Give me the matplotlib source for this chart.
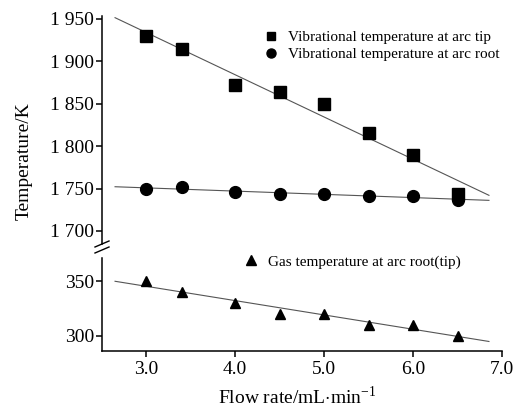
import numpy as np
import matplotlib
matplotlib.use('Agg')
import matplotlib.pyplot as plt
from matplotlib.lines import Line2D

plt.rcParams['font.family'] = ['Liberation Serif', 'DejaVu Serif']
plt.rcParams['mathtext.fontset'] = 'custom'
plt.rcParams['mathtext.rm'] = 'Liberation Serif'

# data
flow = [3.0, 3.4, 4.0, 4.5, 5.0, 5.5, 6.0, 6.5]
t_tip = [1930, 1914, 1872, 1864, 1849, 1815, 1790, 1743]
t_root = [1750, 1752, 1746, 1743, 1743, 1741, 1741, 1737]
t_gas = [350, 340, 330, 320, 320, 310, 310, 300]

fit_x = [2.65, 6.85]
top_ticks = [1700, 1750, 1800, 1850, 1900, 1950]
top_labels = ['1 700', '1 750', '1 800', '1 850', '1 900', '1 950']
bot_ticks = [300, 350]
x_ticks = [3.0, 4.0, 5.0, 6.0, 7.0]

W, H = 531, 409
fig = plt.figure(figsize=(W / 100, H / 100), dpi=100)
left = 101.7 / W
width = (502.3 - 101.7) / W
ax1 = fig.add_axes([left, 1 - 244 / H, width, (244 - 16) / H])
ax2 = fig.add_axes([left, 1 - 351 / H, width, (351 - 258) / H])

line_kw = dict(color='#555555', lw=0.8, zorder=1)
fx = np.array(fit_x)
for ys in (t_tip, t_root):
    k, b = np.polyfit(flow, ys, 1)
    ax1.plot(fx, k * fx + b, **line_kw)
k, b = np.polyfit(flow, t_gas, 1)
ax2.plot(fx, k * fx + b, **line_kw)

ax1.plot(flow, t_tip, 's', color='black', ms=8, ls='none', zorder=3)
ax1.plot(flow, t_root, 'o', color='black', ms=8.5, ls='none', zorder=3)
ax2.plot(flow, t_gas, '^', color='black', ms=7.5, ls='none', zorder=3)

ax1.set_xlim(2.5, 7.0)
ax2.set_xlim(2.5, 7.0)
ax1.set_ylim(1684.7, 1953)
ax2.set_ylim(285.9, 371.4)

for ax in (ax1, ax2):
    ax.spines['top'].set_visible(False)
    ax.spines['right'].set_visible(False)
    ax.spines['left'].set_linewidth(1.1)
    ax.spines['bottom'].set_linewidth(1.1)
    ax.tick_params(axis='both', direction='out', length=4.5, width=1.1,
                   labelsize=14, pad=1)
ax1.spines['bottom'].set_visible(False)
ax1.set_xticks([])
ax1.set_yticks(top_ticks)
ax1.set_yticklabels(top_labels)
ax2.set_yticks(bot_ticks)
ax2.set_xticks(x_ticks)
ax2.set_xticklabels([f'{v:.1f}' for v in x_ticks])
ax2.tick_params(axis='x', pad=3)

# break marks on the y axis
for dy in (0, 6):
    fig.add_artist(Line2D([95 / W, 109 / W], [1 - (253 - dy) / H, 1 - (247 - dy) / H],
                          color='black', lw=1.0))

# legends
h_tip = Line2D([], [], marker='s', color='black', ls='none', ms=6)
h_root = Line2D([], [], marker='o', color='black', ls='none', ms=6.5)
h_gas = Line2D([], [], marker='^', color='black', ls='none', ms=7)
ax1.legend([h_tip, h_root], ['Vibrational temperature at arc tip',
                             'Vibrational temperature at arc root'],
           loc='upper left', bbox_to_anchor=(257 / W, 1 - 23 / H),
           bbox_transform=fig.transFigure, frameon=False, fontsize=11,
           handlelength=0.8, handletextpad=0.7, borderpad=0, labelspacing=0.2)
ax2.legend([h_gas], ['Gas temperature at arc root(tip)'],
           loc='upper left', bbox_to_anchor=(237 / W, 1 - 247 / H),
           bbox_transform=fig.transFigure, frameon=False, fontsize=11,
           handlelength=0.8, handletextpad=0.7, borderpad=0)

fig.text(24 / W, 1 - 161 / H, 'Temperature/K', rotation=90,
         ha='center', va='center', fontsize=14)
fig.text(297 / W, 1 - 397 / H, r'Flow rate/mL$\cdot$min$^{\mathregular{-1}}$',
         ha='center', va='center', fontsize=14)

fig.savefig('out.png', dpi=100)
